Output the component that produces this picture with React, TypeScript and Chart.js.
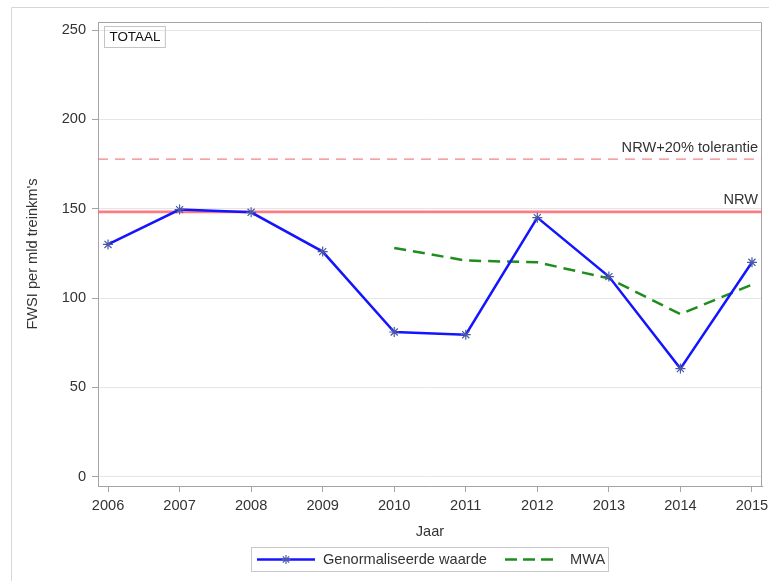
import React, { useEffect, useRef } from "react";
import { Chart, registerables } from "chart.js";

Chart.register(...registerables);

const YEARS = [2006, 2007, 2008, 2009, 2010, 2011, 2012, 2013, 2014, 2015];
const GENORMALISEERD = [130, 149.5, 148, 126, 81, 79.5, 145, 112, 60.5, 120];
const MWA_YEARS = [2010, 2011, 2012, 2013, 2014, 2015];
const MWA = [128, 121, 120, 111, 91, 107.5];
const NRW = 148.2;
const NRW_TOL = 177.8;
const Y_TICKS = [0, 50, 100, 150, 200, 250];
const SERIES_LABELS = ["Genormaliseerde waarde", "MWA"];
const REF_LABELS = ["NRW", "NRW+20% tolerantie"];
const PANEL_LABEL = "TOTAAL";
const X_TITLE = "Jaar";
const Y_TITLE = "FWSI per mld treinkm's";

const FAMILY = "'Liberation Sans', Arial, Helvetica, sans-serif";
const FS = 14.6;
const TEXT = "#333333";
const AXIS = "#a4a4a4";
const BLUE = "#1414ff";
const GREEN = "#1e8c1e";
const MARKER = "#4a58a8";

function drawStar(ctx: CanvasRenderingContext2D, x: number, y: number, r: number) {
  ctx.save();
  ctx.strokeStyle = MARKER;
  ctx.lineWidth = 1.2;
  ctx.beginPath();
  for (let k = 0; k < 4; k++) {
    const a = (k * Math.PI) / 4;
    ctx.moveTo(x - Math.cos(a) * r, y - Math.sin(a) * r);
    ctx.lineTo(x + Math.cos(a) * r, y + Math.sin(a) * r);
  }
  ctx.stroke();
  ctx.restore();
}

const decor = {
  id: "decor",
  beforeDraw(chart: any) {
    const ctx = chart.ctx as CanvasRenderingContext2D;
    ctx.save();
    ctx.strokeStyle = "#d6d6d6";
    ctx.lineWidth = 1;
    ctx.beginPath();
    ctx.moveTo(11.5, chart.height);
    ctx.lineTo(11.5, 7.5);
    ctx.lineTo(chart.width, 7.5);
    ctx.stroke();
    ctx.restore();
  },
  beforeDatasetsDraw(chart: any) {
    const ctx = chart.ctx as CanvasRenderingContext2D;
    const { left, right, top, bottom } = chart.chartArea;
    const y = chart.scales.y;
    ctx.save();
    ctx.strokeStyle = AXIS;
    ctx.lineWidth = 1;
    ctx.beginPath();
    ctx.moveTo(left, top + 0.5);
    ctx.lineTo(right - 0.5, top + 0.5);
    ctx.lineTo(right - 0.5, bottom);
    ctx.stroke();

    const yt = y.getPixelForValue(NRW_TOL);
    ctx.strokeStyle = "rgba(240,110,110,0.85)";
    ctx.lineWidth = 1.2;
    ctx.setLineDash([10, 7]);
    ctx.beginPath();
    ctx.moveTo(left, yt);
    ctx.lineTo(right, yt);
    ctx.stroke();
    ctx.setLineDash([]);

    const yn = y.getPixelForValue(NRW);
    ctx.strokeStyle = "rgba(255,110,120,0.9)";
    ctx.lineWidth = 2.6;
    ctx.beginPath();
    ctx.moveTo(left, yn);
    ctx.lineTo(right, yn);
    ctx.stroke();

    ctx.fillStyle = TEXT;
    ctx.font = `${FS}px ${FAMILY}`;
    ctx.textAlign = "right";
    ctx.textBaseline = "alphabetic";
    ctx.fillText(REF_LABELS[1], right - 4, yt - 7);
    ctx.fillText(REF_LABELS[0], right - 4, yn - 8);
    ctx.restore();
  },
  afterDraw(chart: any) {
    const ctx = chart.ctx as CanvasRenderingContext2D;
    const { left, top } = chart.chartArea;
    ctx.save();
    ctx.font = `13.4px ${FAMILY}`;
    const tw = ctx.measureText(PANEL_LABEL).width;
    const bx = left + 6.5;
    const by = top + 4.5;
    ctx.strokeStyle = "#c4c4c4";
    ctx.lineWidth = 1;
    ctx.strokeRect(bx, by, tw + 10, 21);
    ctx.fillStyle = "#111";
    ctx.textAlign = "left";
    ctx.textBaseline = "middle";
    ctx.fillText(PANEL_LABEL, bx + 5, by + 11);

    const ds = chart.data.datasets;
    ctx.font = `${FS}px ${FAMILY}`;
    const lx = 251.5;
    const ly = 547.5;
    const lw = 357;
    const lh = 24;
    ctx.strokeStyle = "#c8c8c8";
    ctx.strokeRect(lx, ly, lw, lh);
    const cy = ly + lh / 2;
    ctx.strokeStyle = BLUE;
    ctx.lineWidth = 2.5;
    ctx.beginPath();
    ctx.moveTo(257, cy);
    ctx.lineTo(315, cy);
    ctx.stroke();
    drawStar(ctx, 286, cy, 4.5);
    ctx.fillStyle = TEXT;
    ctx.textAlign = "left";
    ctx.textBaseline = "middle";
    ctx.fillText(ds[0].label, 323, cy);
    ctx.strokeStyle = GREEN;
    ctx.lineWidth = 2.5;
    ctx.setLineDash([12, 6]);
    ctx.beginPath();
    ctx.moveTo(505, cy);
    ctx.lineTo(553, cy);
    ctx.stroke();
    ctx.setLineDash([]);
    ctx.fillText(ds[1].label, 570, cy);
    ctx.restore();
  },
};

export default function App() {
  const ref = useRef<HTMLCanvasElement | null>(null);

  useEffect(() => {
    if (!ref.current) return;
    const chart = new Chart(ref.current, {
      type: "line",
      data: {
        datasets: [
          {
            label: SERIES_LABELS[0],
            data: YEARS.map((x, i) => ({ x, y: GENORMALISEERD[i] })),
            borderColor: BLUE,
            borderWidth: 2.5,
            pointStyle: "star",
            pointRadius: 5,
            pointBorderColor: MARKER,
            pointBorderWidth: 1.2,
            pointBackgroundColor: MARKER,
            tension: 0,
            fill: false,
          },
          {
            label: SERIES_LABELS[1],
            data: MWA_YEARS.map((x, i) => ({ x, y: MWA[i] })),
            borderColor: GREEN,
            borderWidth: 2.5,
            borderDash: [12, 7],
            pointRadius: 0,
            tension: 0,
            fill: false,
          },
        ],
      },
      options: {
        responsive: false,
        animation: false,
        devicePixelRatio: 1,
        layout: { padding: { left: 0, top: 22, right: 7, bottom: 0 } },
        plugins: { legend: { display: false }, tooltip: { enabled: false } },
        scales: {
          x: {
            type: "linear",
            min: YEARS[0] - 0.14,
            max: YEARS[YEARS.length - 1] + 0.14,
            afterBuildTicks: (s: any) => {
              s.ticks = YEARS.map((v) => ({ value: v }));
            },
            afterFit: (s: any) => {
              s.height = 95;
              s.paddingLeft = 0;
              s.paddingRight = 0;
            },
            grid: { drawOnChartArea: false, tickColor: AXIS, tickLength: 6 },
            border: { color: AXIS },
            ticks: {
              padding: 5,
              color: TEXT,
              autoSkip: false,
              maxRotation: 0,
              font: { size: FS, family: FAMILY },
              callback: (v: any) => String(v),
            },
            title: {
              display: true,
              text: X_TITLE,
              color: TEXT,
              font: { size: FS, family: FAMILY },
              padding: { top: 0, bottom: 40 },
            },
          },
          y: {
            type: "linear",
            min: -5.2,
            max: 254.5,
            afterBuildTicks: (s: any) => {
              s.ticks = Y_TICKS.map((v) => ({ value: v }));
            },
            afterFit: (s: any) => {
              s.width = 98;
              s.paddingTop = 0;
              s.paddingBottom = 0;
            },
            grid: { color: "#e6e6e6", tickColor: AXIS, tickLength: 6 },
            border: { color: AXIS },
            ticks: {
              padding: 6,
              color: TEXT,
              font: { size: FS, family: FAMILY },
              callback: (v: any) => String(v),
            },
            title: {
              display: true,
              text: Y_TITLE,
              color: TEXT,
              font: { size: FS, family: FAMILY },
              padding: { top: 24, bottom: 0 },
            },
          },
        },
      },
      plugins: [decor],
    });
    return () => chart.destroy();
  }, []);

  return (
    <div style={{ position: "fixed", left: 0, top: 0, width: 769, height: 581, background: "#fff" }}>
      <canvas ref={ref} width={769} height={581} style={{ display: "block" }} />
    </div>
  );
}
